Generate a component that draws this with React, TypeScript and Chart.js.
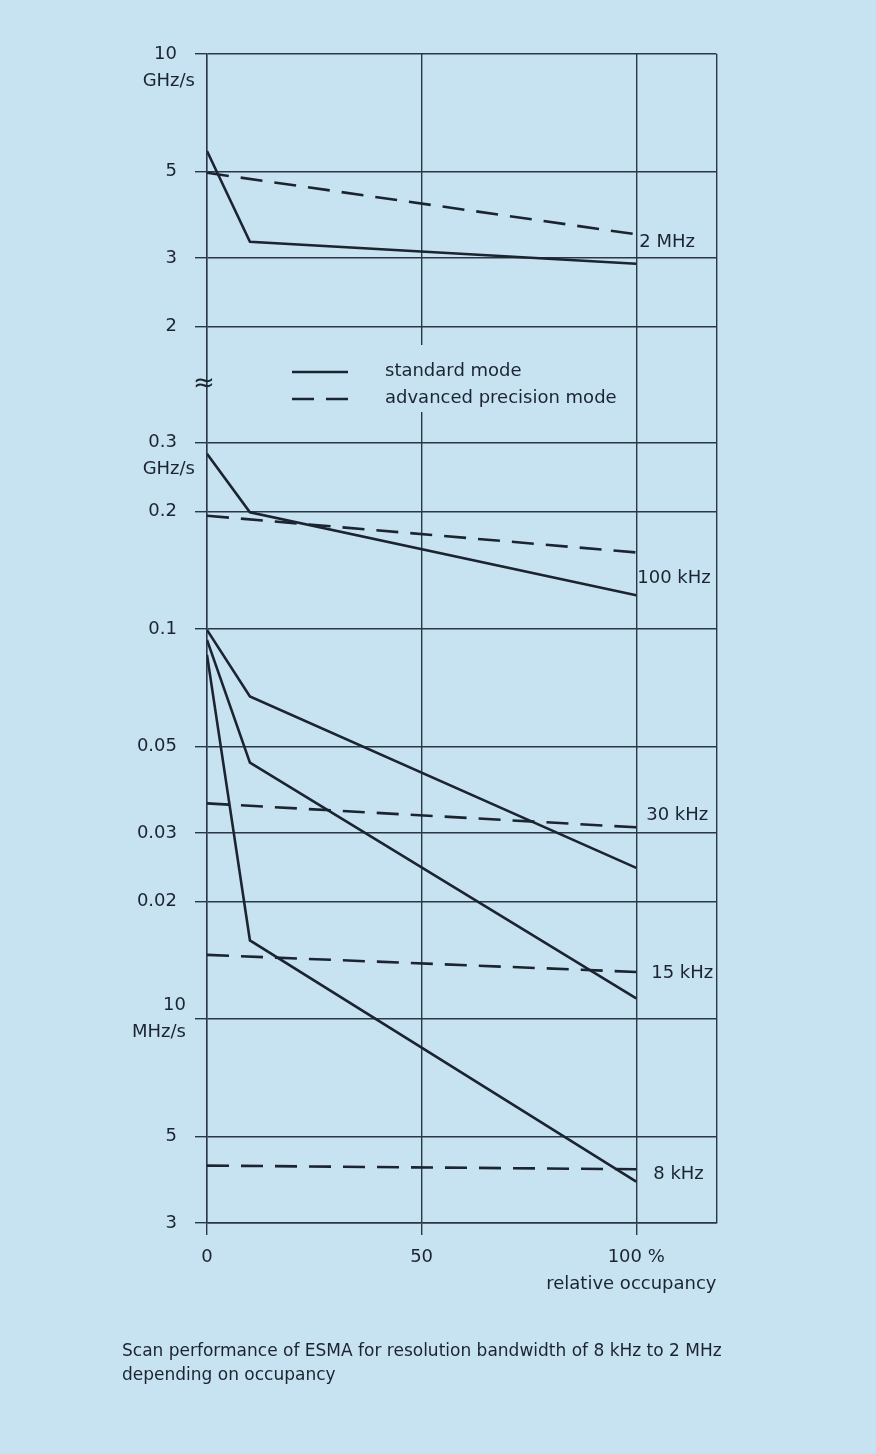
import React, { useEffect, useRef } from "react";
import { Chart, registerables } from "chart.js";

Chart.register(...registerables);

// ---- data (scan speed in GHz/s vs. relative occupancy in %) ----
const occupancyStandard = [0, 10, 100];
const occupancyAdvanced = [0, 100];
const bandwidths = ["2 MHz", "100 kHz", "30 kHz", "15 kHz", "8 kHz"];

const standard2M = [5.64, 3.3, 2.9];
const advanced2M = [4.96, 3.45];
const standard100k = [0.281, 0.199, 0.122];
const advanced100k = [0.195, 0.157];
const standard30k = [0.0994, 0.0671, 0.0244];
const advanced30k = [0.0357, 0.031];
const standard15k = [0.0937, 0.0454, 0.0113];
const advanced15k = [0.0146, 0.0132];
const standard8k = [0.0858, 0.0159, 0.00383];
const advanced8k = [0.00421, 0.00412];

// value at which each bandwidth label sits (GHz/s)
const bandLabelValues = [3.3, 0.135, 0.0332, 0.0131, 0.00399];

const yTickValues = [10, 5, 3, 2, 0.3, 0.2, 0.1, 0.05, 0.03, 0.02, 0.01, 0.005, 0.003];
const yTickLabels: (string | string[])[] = [
  ["", "10\u2003", "GHz/s"],
  "5\u2003",
  "3\u2003",
  "2\u2003",
  ["", "0.3\u2003", "GHz/s"],
  "0.2\u2003",
  "0.1\u2003",
  "0.05\u2003",
  "0.03\u2003",
  "0.02\u2003",
  ["10\u2002", "MHz/s\u2002"],
  "5\u2003",
  "3\u2003",
];
const xTickValues = [0, 50, 100];
const xTickLabels = ["0", "50", "100 %"];
const X_MAX = 118.7;
const X_TITLE = "relative occupancy";
const legendLabels = ["standard mode", "advanced precision mode"];
const captionLines = [
  "Scan performance of ESMA for resolution bandwidth of 8 kHz to 2 MHz",
  "depending on occupancy",
];

// ---- styles ----
const BG = "rgb(199,226,241)";
const INK = "#1b2430";
const GRID = "#2b3744";
const FONT = "'DejaVu Sans', sans-serif";
const DASH = [22, 12];
const bandLabelGap = [3, 1, 10, 15, 17];

// axis break: upper part (>= 1 GHz/s) is shifted down by SHIFT decades
const SHIFT = 0.5264;
const toAxis = (v: number) => (v >= 1 ? Math.log10(v) - SHIFT : Math.log10(v));

const series = [
  { std: standard2M, adv: advanced2M },
  { std: standard100k, adv: advanced100k },
  { std: standard30k, adv: advanced30k },
  { std: standard15k, adv: advanced15k },
  { std: standard8k, adv: advanced8k },
];

const overlayPlugin = {
  id: "overlay",
  beforeDatasetsDraw(chart: any) {
    const { ctx, chartArea } = chart;
    const { left, top } = chartArea;
    ctx.save();
    // legend box knocks out grid
    ctx.fillStyle = BG;
    ctx.fillRect(left + 73, top + 291, 345, 67);
    ctx.strokeStyle = INK;
    ctx.lineWidth = 2.6;
    ctx.beginPath();
    ctx.moveTo(left + 85, top + 318);
    ctx.lineTo(left + 141, top + 318);
    ctx.stroke();
    ctx.setLineDash(DASH);
    ctx.beginPath();
    ctx.moveTo(left + 85, top + 345);
    ctx.lineTo(left + 141, top + 345);
    ctx.stroke();
    ctx.setLineDash([]);
    ctx.fillStyle = INK;
    ctx.font = `18px ${FONT}`;
    ctx.textAlign = "left";
    ctx.textBaseline = "middle";
    ctx.fillText(legendLabels[0], left + 178, top + 317);
    ctx.fillText(legendLabels[1], left + 178, top + 344);
    ctx.restore();
  },
  afterDraw(chart: any) {
    const { ctx, chartArea, scales } = chart;
    const x = scales.x;
    const y = scales.y;
    ctx.save();
    ctx.fillStyle = INK;
    // break mark on the axis
    const yb = (y.getPixelForValue(toAxis(2)) + y.getPixelForValue(toAxis(0.3))) / 2;
    ctx.font = `26px ${FONT}`;
    ctx.textAlign = "center";
    ctx.textBaseline = "middle";
    ctx.fillText("\u2248", chartArea.left - 3, yb);
    // bandwidth labels
    ctx.font = `18px ${FONT}`;
    ctx.textAlign = "left";
    const x100 = x.getPixelForValue(100);
    bandwidths.forEach((b, i) => {
      ctx.fillText(b, x100 + bandLabelGap[i], y.getPixelForValue(toAxis(bandLabelValues[i])));
    });
    ctx.restore();
  },
};

export default function App() {
  const ref = useRef<HTMLCanvasElement>(null);
  useEffect(() => {
    const datasets: any[] = [];
    series.forEach((s, i) => {
      datasets.push({
        label: `${bandwidths[i]} standard`,
        data: occupancyStandard.map((o, k) => ({ x: o, y: toAxis(s.std[k]) })),
        borderColor: INK,
        borderWidth: 2.6,
        pointRadius: 0,
        tension: 0,
        fill: false,
      });
      datasets.push({
        label: `${bandwidths[i]} advanced`,
        data: occupancyAdvanced.map((o, k) => ({ x: o, y: toAxis(s.adv[k]) })),
        borderColor: INK,
        borderWidth: 2.6,
        borderDash: DASH,
        pointRadius: 0,
        tension: 0,
        fill: false,
      });
    });
    const tickFont = { family: FONT, size: 18 };
    const chart = new Chart(ref.current!, {
      type: "line",
      data: { datasets },
      plugins: [overlayPlugin],
      options: {
        animation: false,
        responsive: false,
        devicePixelRatio: 1,
        layout: { padding: { left: 0, top: 54, right: 159.5, bottom: 159 } },
        plugins: { legend: { display: false }, tooltip: { enabled: false } },
        scales: {
          x: {
            type: "linear",
            min: 0,
            max: X_MAX,
            afterBuildTicks: (s: any) => {
              s.ticks = [...xTickValues, X_MAX].map((v) => ({ value: v }));
            },
            afterFit: (s: any) => {
              s.height = 72;
            },
            grid: {
              color: GRID,
              lineWidth: 1.4,
              tickLength: 12,
              tickColor: (c: any) => (c.tick && c.tick.value > 100.5 ? "rgba(0,0,0,0)" : GRID),
            },
            border: { display: true, color: GRID, width: 1.4 },
            ticks: {
              autoSkip: false,
              maxRotation: 0,
              padding: 12,
              color: INK,
              font: tickFont,
              callback: (v: any) => {
                const i = xTickValues.indexOf(Number(v));
                return i >= 0 ? xTickLabels[i] : "";
              },
            },
            title: {
              display: true,
              text: X_TITLE,
              align: "end",
              color: INK,
              font: tickFont,
              padding: 0,
            },
          },
          y: {
            type: "linear",
            min: toAxis(0.003),
            max: toAxis(10),
            afterBuildTicks: (s: any) => {
              s.ticks = yTickValues.map((v) => ({ value: toAxis(v) })).reverse();
            },
            afterFit: (s: any) => {
              s.width = 207;
            },
            grid: { color: GRID, lineWidth: 1.4, tickLength: 12, tickColor: GRID },
            border: { display: true, color: GRID, width: 1.4 },
            ticks: {
              autoSkip: false,
              padding: 0,
              color: INK,
              font: { family: FONT, size: 18, lineHeight: 1.5 },
              callback: (v: any) => {
                const i = yTickValues.findIndex((t) => Math.abs(toAxis(t) - Number(v)) < 1e-6);
                return i >= 0 ? yTickLabels[i] : "";
              },
            },
          },
        },
      } as any,
    });
    return () => chart.destroy();
  }, []);

  return (
    <div
      style={{
        position: "fixed",
        left: 0,
        top: 0,
        width: 876,
        height: 1454,
        background: BG,
        overflow: "hidden",
      }}
    >
      <canvas
        ref={ref}
        width={876}
        height={1454}
        style={{ position: "absolute", left: 0, top: 0, width: 876, height: 1454 }}
      />
      <div
        style={{
          position: "absolute",
          left: 122,
          top: 1338,
          fontFamily: FONT,
          fontSize: 17,
          lineHeight: "24px",
          color: INK,
          whiteSpace: "nowrap",
        }}
      >
        {captionLines[0]}
        <br />
        {captionLines[1]}
      </div>
    </div>
  );
}
